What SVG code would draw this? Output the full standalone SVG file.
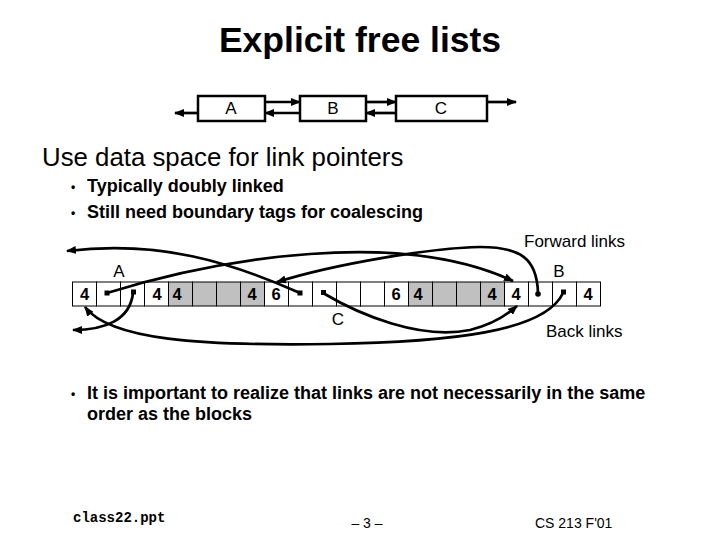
<svg xmlns="http://www.w3.org/2000/svg" width="720" height="540" viewBox="0 0 720 540">
<defs>
<marker id="ah" markerUnits="userSpaceOnUse" markerWidth="10" markerHeight="8" refX="9" refY="4" orient="auto">
<path d="M0,0 L10,4 L0,8 Z" fill="#000"/>
</marker>
<style>
text{font-family:"Liberation Sans",Arial,sans-serif;fill:#000}
.mono{font-family:"Courier New","Liberation Mono",monospace}
.box{fill:#fff;stroke:#000;stroke-width:2.5}
.cell{fill:#fff;stroke:#000;stroke-width:1}
.g{fill:#c0c0c0}
.lk{fill:none;stroke:#000;stroke-width:2.7;marker-end:url(#ah)}
.num{font-size:16.5px;font-weight:bold}
.lbl{font-size:17px}
.b{font-size:18px;font-weight:bold}
.bul{font-size:12px;font-weight:bold}
.dot{fill:#000}
</style>
</defs>
<rect width="720" height="540" fill="#fff"/>
<text x="360" y="52" text-anchor="middle" font-size="35.5" font-weight="bold">Explicit free lists</text>

<g id="top-list">
<g id="nodeA"><rect class="box" x="198" y="96" width="67" height="25"/><text class="lbl" x="231" y="114" text-anchor="middle">A</text></g>
<g id="nodeB"><rect class="box" x="300" y="96" width="66" height="25"/><text class="lbl" x="333" y="114" text-anchor="middle">B</text></g>
<g id="nodeC"><rect class="box" x="396" y="96" width="91" height="25"/><text class="lbl" x="441" y="114" text-anchor="middle">C</text></g>
</g>
<g id="top-connectors">
<line class="lk" x1="198" y1="113" x2="175" y2="113"/>
<line class="lk" x1="265" y1="102" x2="300" y2="102"/>
<line class="lk" x1="300" y1="113" x2="265" y2="113"/>
<line class="lk" x1="366" y1="102" x2="396" y2="102"/>
<line class="lk" x1="396" y1="113" x2="366" y2="113"/>
<line class="lk" x1="487" y1="102" x2="516" y2="102"/>
</g>

<text x="42" y="166" font-size="25.8">Use data space for link pointers</text>
<text class="bul" x="71" y="191">•</text><text class="b" x="87" y="192">Typically doubly linked</text>
<text class="bul" x="71" y="217">•</text><text class="b" x="87" y="218">Still need boundary tags for coalescing</text>

<text class="lbl" x="524" y="247">Forward links</text>
<text class="lbl" x="546" y="337">Back links</text>

<g id="memory">
<rect class="cell" x="72.5" y="282" width="24" height="24"/>
<rect class="cell" x="96.5" y="282" width="24" height="24"/>
<rect class="cell" x="120.5" y="282" width="24" height="24"/>
<rect class="cell" x="144.5" y="282" width="24" height="24"/>
<rect class="cell g" x="168.5" y="282" width="24" height="24"/>
<rect class="cell g" x="192.5" y="282" width="24" height="24"/>
<rect class="cell g" x="216.5" y="282" width="24" height="24"/>
<rect class="cell g" x="240.5" y="282" width="24" height="24"/>
<rect class="cell" x="264.5" y="282" width="24" height="24"/>
<rect class="cell" x="288.5" y="282" width="24" height="24"/>
<rect class="cell" x="312.5" y="282" width="24" height="24"/>
<rect class="cell" x="336.5" y="282" width="24" height="24"/>
<rect class="cell" x="360.5" y="282" width="24" height="24"/>
<rect class="cell" x="384.5" y="282" width="24" height="24"/>
<rect class="cell g" x="408.5" y="282" width="24" height="24"/>
<rect class="cell g" x="432.5" y="282" width="24" height="24"/>
<rect class="cell g" x="456.5" y="282" width="24" height="24"/>
<rect class="cell g" x="480.5" y="282" width="24" height="24"/>
<rect class="cell" x="504.5" y="282" width="24" height="24"/>
<rect class="cell" x="528.5" y="282" width="24" height="24"/>
<rect class="cell" x="552.5" y="282" width="24" height="24"/>
<rect class="cell" x="576.5" y="282" width="24" height="24"/>
<text class="num" x="84.5" y="300" text-anchor="middle">4</text>
<text class="num" x="157" y="300" text-anchor="middle">4</text>
<text class="num" x="177" y="300" text-anchor="middle">4</text>
<text class="num" x="252" y="300" text-anchor="middle">4</text>
<text class="num" x="276" y="300" text-anchor="middle">6</text>
<text class="num" x="396" y="300" text-anchor="middle">6</text>
<text class="num" x="418" y="300" text-anchor="middle">4</text>
<text class="num" x="492" y="300" text-anchor="middle">4</text>
<text class="num" x="516" y="300" text-anchor="middle">4</text>
<text class="num" x="588" y="300" text-anchor="middle">4</text>
<rect class="dot" x="104.5" y="290.5" width="5" height="5"/>
<rect class="dot" x="131" y="289.5" width="5" height="5"/>
<rect class="dot" x="297.5" y="290.5" width="5" height="5"/>
<rect class="dot" x="321" y="290" width="5" height="5"/>
<circle class="dot" cx="538" cy="294" r="2.8"/>
<rect class="dot" x="561" y="289.5" width="5" height="5"/>
</g>
<g id="blockA"><text class="lbl" x="119" y="277" text-anchor="middle">A</text></g>
<g id="blockC"><text class="lbl" x="338" y="325" text-anchor="middle">C</text></g>
<g id="blockB"><text class="lbl" x="559" y="277" text-anchor="middle">B</text></g>

<g id="connectors">
<path class="lk" d="M107,293 C220,258 400,228 513,281"/>
<path class="lk" d="M538,293 C537,258 520,247 480,247 C430,248 335,264 277,282"/>
<path class="lk" d="M300,293 C230,262 160,240 67,251"/>
<path class="lk" d="M133,293 C130,320 105,330 73,330"/>
<path class="lk" d="M563,293 C545,332 450,342 330,344 C200,346 110,340 85,307"/>
<path class="lk" d="M323,293 C360,315 420,340 470,330 C495,324 508,314 517,306"/>
</g>

<text class="bul" x="71" y="398">•</text>
<text class="b" x="87" y="399">It is important to realize that links are not necessarily in the same</text>
<text class="b" x="87" y="420">order as the blocks</text>

<text class="mono" x="73" y="522" font-size="14" font-weight="bold">class22.ppt</text>
<text x="367" y="528" text-anchor="middle" font-size="14">– 3 –</text>
<text x="535" y="528" font-size="14">CS 213 F'01</text>
</svg>
